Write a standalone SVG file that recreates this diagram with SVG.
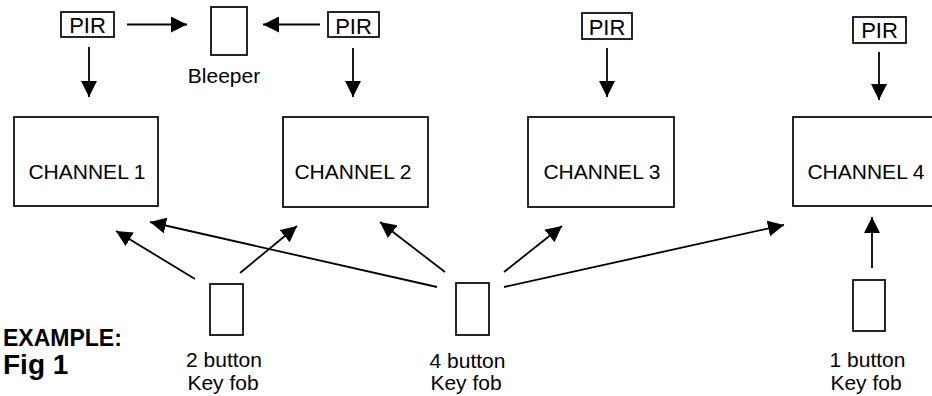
<svg xmlns="http://www.w3.org/2000/svg" width="932" height="396" viewBox="0 0 932 396">
<style>
.box{fill:#fff;stroke:#000;stroke-width:1.7}
.t{font-family:"Liberation Sans",Arial,sans-serif;font-size:21px;fill:#000;text-anchor:middle}
.p{font-size:22px}
.b{font-family:"Liberation Sans",Arial,sans-serif;font-weight:bold;fill:#000}
.ln{stroke:#000;stroke-width:1.8;fill:none;marker-end:url(#ah)}
</style>
<defs>
<marker id="ah" markerWidth="17" markerHeight="16" refX="16" refY="8" orient="auto" markerUnits="userSpaceOnUse">
<path d="M0,0 L16,8 L0,16 z" fill="#000"/>
</marker>
</defs>
<rect width="932" height="396" fill="#fff"/>
<g id="pir1"><rect class="box" x="61" y="12" width="53" height="25"/><text class="t p" x="87.5" y="33">PIR</text></g>
<g id="pir2"><rect class="box" x="328" y="12" width="51" height="25"/><text class="t p" x="353.5" y="33.5">PIR</text></g>
<g id="pir3"><rect class="box" x="582" y="13" width="50" height="26"/><text class="t p" x="607" y="34.5">PIR</text></g>
<g id="pir4"><rect class="box" x="853" y="17" width="53" height="26"/><text class="t p" x="879.5" y="38">PIR</text></g>
<g id="bleeper"><rect class="box" x="211" y="7" width="36" height="48"/><text class="t" x="224" y="83">Bleeper</text></g>
<g id="ch1"><rect class="box" x="14" y="117" width="144" height="89"/><text class="t" x="87" y="178.5">CHANNEL 1</text></g>
<g id="ch2"><rect class="box" x="283" y="117" width="145" height="90"/><text class="t" x="353" y="178.5">CHANNEL 2</text></g>
<g id="ch3"><rect class="box" x="528" y="117" width="146" height="90"/><text class="t" x="602" y="178.5">CHANNEL 3</text></g>
<g id="ch4"><rect class="box" x="793" y="117" width="146" height="89"/><text class="t" x="866" y="178.5">CHANNEL 4</text></g>
<g id="fob2"><rect class="box" x="210" y="284" width="33" height="51"/><text class="t" x="224" y="367">2 button</text><text class="t" x="223" y="390">Key fob</text></g>
<g id="fob4"><rect class="box" x="456" y="283" width="33" height="52"/><text class="t" x="467.5" y="367.5">4 button</text><text class="t" x="466" y="389.5">Key fob</text></g>
<g id="fob1"><rect class="box" x="853" y="280" width="32" height="51"/><text class="t" x="867.5" y="367">1 button</text><text class="t" x="866" y="390">Key fob</text></g>
<g id="caption">
<text class="b" x="3" y="346" font-size="23">EXAMPLE:</text>
<text class="b" x="3" y="374" font-size="28">Fig 1</text>
</g>
<g id="connectors">
<line class="ln" x1="127" y1="24.5" x2="187" y2="24.5"/>
<line class="ln" x1="320" y1="24.5" x2="263" y2="24.5"/>
<line class="ln" x1="89" y1="47" x2="89" y2="97"/>
<line class="ln" x1="353" y1="48" x2="353" y2="97"/>
<line class="ln" x1="607" y1="48" x2="607" y2="97"/>
<line class="ln" x1="879" y1="52" x2="879" y2="100"/>
<line class="ln" x1="872" y1="268" x2="872" y2="217"/>
<line class="ln" x1="195" y1="279" x2="116" y2="231"/>
<line class="ln" x1="240" y1="273" x2="297" y2="226"/>
<line class="ln" x1="437" y1="287" x2="150" y2="222"/>
<line class="ln" x1="445" y1="272" x2="380" y2="222"/>
<line class="ln" x1="504" y1="272" x2="562" y2="226"/>
<line class="ln" x1="504" y1="287" x2="784" y2="225"/>
</g>
</svg>
